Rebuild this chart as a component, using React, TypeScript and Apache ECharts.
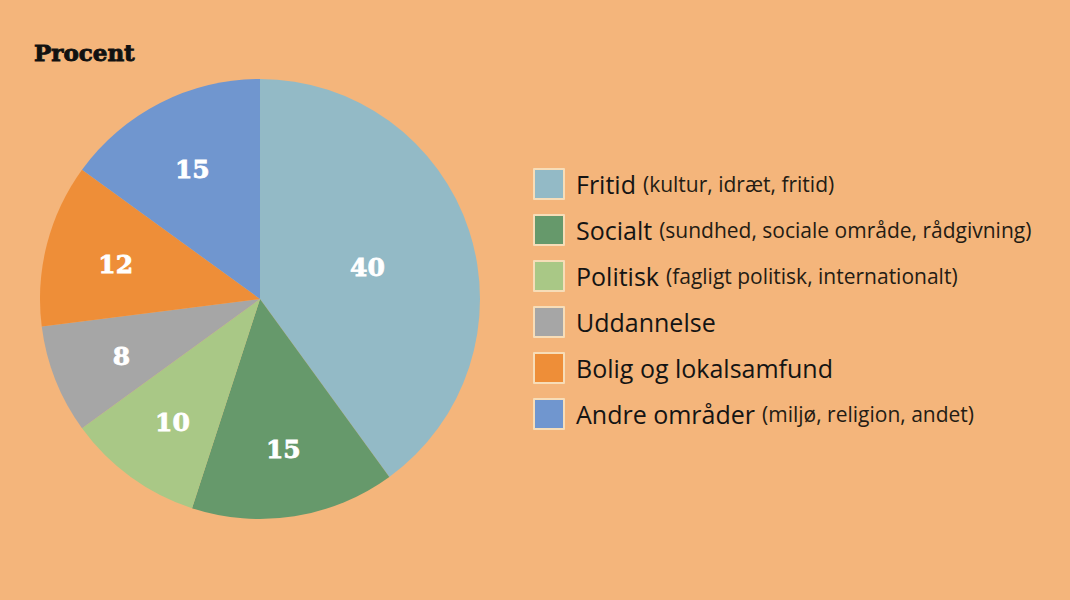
import React, { useEffect, useRef } from "react";
import * as echarts from "echarts";

const categories = ["Fritid", "Socialt", "Politisk", "Uddannelse", "Bolig og lokalsamfund", "Andre områder"];
const subtitles = ["(kultur, idræt, fritid)", "(sundhed, sociale område, rådgivning)", "(fagligt politisk, internationalt)", "", "", "(miljø, religion, andet)"];
const values = [40, 15, 10, 8, 12, 15];
const colors = ["#93BAC6", "#66996B", "#A9C886", "#A6A6A6", "#EE8E38", "#7096CF"];

export default function App() {
  const ref = useRef<HTMLDivElement>(null);
  useEffect(() => {
    const chart = echarts.init(ref.current!, null, { renderer: "svg" });
    const labelFont = {
      color: "#ffffff",
      fontFamily: "DejaVu Serif",
      fontWeight: "bold" as const,
      fontSize: 25,
      textBorderColor: "#ffffff",
      textBorderWidth: 0.8,
      offset: [0, 3],
    };
    chart.setOption({
      animation: false,
      backgroundColor: "#F4B57B",
      title: {
        text: "Procent",
        left: 34,
        top: 41,
        padding: 0,
        textStyle: {
          fontFamily: "DejaVu Serif",
          fontWeight: "bold",
          fontSize: 23,
          color: "#111",
          textBorderColor: "#111",
          textBorderWidth: 0.9,
        },
      },
      legend: {
        orient: "vertical",
        left: 533,
        top: 168,
        padding: 0,
        icon: "rect",
        itemWidth: 30,
        itemHeight: 30,
        itemGap: 14,
        itemStyle: { borderColor: "#F7DDB8", borderWidth: 2 },
        data: categories,
        formatter: (name: string) => {
          const i = categories.indexOf(name);
          return subtitles[i] ? `{a|${name}}{b|${subtitles[i]}}` : `{a|${name}}`;
        },
        textStyle: {
          color: "#141414",
          rich: {
            a: { fontFamily: "Open Sans", fontSize: 25, color: "#141414", padding: [0, 0, 0, 7], lineHeight: 30 },
            b: { fontFamily: "Open Sans", fontSize: 21, color: "#241c14", lineHeight: 30, padding: [0, 0, 0, 7] },
          },
        },
      },
      series: [
        {
          type: "pie",
          center: [260, 299],
          radius: [0, 220],
          startAngle: 90,
          clockwise: true,
          silent: true,
          itemStyle: { borderWidth: 0 },
          labelLine: { show: false },
          data: categories.map((c, i) => ({
            name: c,
            value: values[i],
            itemStyle: { color: colors[i] },
            label: { show: i === 0, position: "inside", formatter: "{c}", ...labelFont },
          })),
        },
        {
          type: "pie",
          center: [260, 299],
          radius: [0, 292],
          startAngle: 90,
          clockwise: true,
          silent: true,
          labelLine: { show: false },
          data: categories.map((c, i) => ({
            name: c + " ",
            value: values[i],
            itemStyle: { color: "rgba(0,0,0,0)" },
            label: { show: i !== 0, position: "inside", formatter: "{c}", ...labelFont },
          })),
        },
      ],
    });
    return () => chart.dispose();
  }, []);
  return <div ref={ref} style={{ width: 1070, height: 600, position: "absolute", left: 0, top: 0 }} />;
}
